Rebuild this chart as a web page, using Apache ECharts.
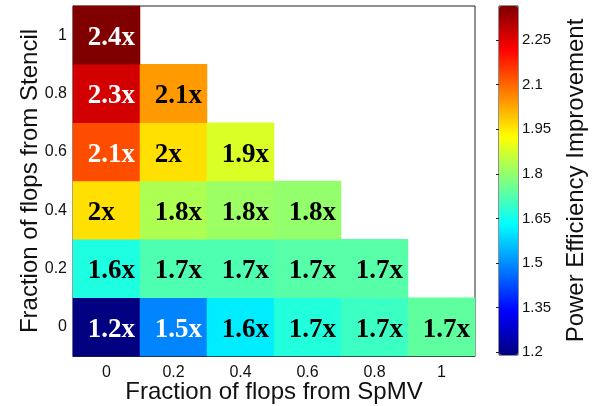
<!DOCTYPE html>
<html>
<head>
<meta charset="utf-8">
<script src="https://cdn.jsdelivr.net/npm/echarts@6/dist/echarts.min.js"></script>
<style>
  html, body { margin: 0; padding: 0; background: #fff; }
  #chart { width: 598px; height: 406px; }
</style>
</head>
<body>
<div id="chart"></div>
<script>
// fraction of flops from SpMV (x) and Stencil (y)
var spmvFrac = ['0', '0.2', '0.4', '0.6', '0.8', '1'];
var stencilFrac = ['0', '0.2', '0.4', '0.6', '0.8', '1'];

// power efficiency improvement, one row per stencil fraction
var row0 = [1.19, 1.49, 1.61, 1.67, 1.70, 1.74];
var row02 = [1.665, 1.72, 1.72, 1.73, 1.73];
var row04 = [1.96, 1.83, 1.81, 1.80];
var row06 = [2.13, 1.96, 1.88];
var row08 = [2.27, 2.04];
var row1 = [2.365];

// printed labels
var lab0 = ['1.2x', '1.5x', '1.6x', '1.7x', '1.7x', '1.7x'];
var lab02 = ['1.6x', '1.7x', '1.7x', '1.7x', '1.7x'];
var lab04 = ['2x', '1.8x', '1.8x', '1.8x'];
var lab06 = ['2.1x', '2x', '1.9x'];
var lab08 = ['2.3x', '2.1x'];
var lab1 = ['2.4x'];

var cbMin = 1.19, cbMax = 2.365;
var cbTicks = [1.2, 1.35, 1.5, 1.65, 1.8, 1.95, 2.1, 2.25];
var jet = ['#000080', '#0000ff', '#0080ff', '#00ffff', '#80ff80', '#ffff00', '#ff8000', '#ff0000', '#800000'];

var rows = [row0, row02, row04, row06, row08, row1];
var labs = [lab0, lab02, lab04, lab06, lab08, lab1];
var cells = [];
for (var j = 0; j < rows.length; j++) {
    for (var i = 0; i < rows[j].length; i++) {
        var v = rows[j][i];
        var dark = v > 2.1 || v < 1.55;
        cells.push({
            value: [i, j, v],
            name: labs[j][i],
            label: { color: dark ? '#fff' : '#000' }
        });
    }
}

var chart = echarts.init(document.getElementById('chart'));
var sansFont = 'Liberation Sans';
var option = {
    animation: false,
    grid: [
        { left: 73, top: 6, width: 402, height: 350, outerBoundsMode: 'none', show: true, borderColor: '#222', borderWidth: 1, backgroundColor: 'transparent' },
        { left: 499, top: 6, width: 19, height: 349, outerBoundsMode: 'none', show: true, borderColor: '#222', borderWidth: 1, backgroundColor: 'transparent' }
    ],
    xAxis: [
        {
            type: 'category', gridIndex: 0, data: spmvFrac,
            name: 'Fraction of flops from SpMV', nameLocation: 'middle', nameGap: 24, nameMoveOverlap: false,
            nameTextStyle: { fontFamily: sansFont, fontSize: 24, color: '#111' },
            axisLine: { lineStyle: { color: '#222' } },
            axisTick: { show: false },
            axisLabel: { fontFamily: sansFont, fontSize: 16, color: '#111', margin: 9 },
            splitLine: { show: false }
        },
        { type: 'value', gridIndex: 1, show: false, min: 0, max: 1 }
    ],
    yAxis: [
        {
            type: 'category', gridIndex: 0, data: stencilFrac,
            name: 'Fraction of flops from Stencil', nameLocation: 'middle', nameGap: 31, nameMoveOverlap: false,
            nameTextStyle: { fontFamily: sansFont, fontSize: 24, color: '#111' },
            axisLine: { lineStyle: { color: '#222' } },
            axisTick: { show: false },
            axisLabel: { fontFamily: sansFont, fontSize: 16, color: '#111', margin: 6 },
            splitLine: { show: false }
        },
        {
            type: 'value', gridIndex: 1, position: 'right', min: cbMin, max: cbMax,
            name: 'Power Efficiency Improvement', nameLocation: 'middle', nameGap: 46, nameRotate: 90,
            nameTextStyle: { fontFamily: sansFont, fontSize: 24, color: '#111' },
            axisLine: { show: false },
            axisTick: { show: true, inside: true, length: 3, lineStyle: { color: '#222' }, customValues: cbTicks },
            axisLabel: { fontFamily: sansFont, fontSize: 15, color: '#111', margin: 4, customValues: cbTicks },
            splitLine: { show: false }
        }
    ],
    visualMap: {
        type: 'continuous', seriesIndex: 0, min: cbMin, max: cbMax,
        left: 499, top: 6, itemWidth: 19, itemHeight: 349, padding: 0,
        calculable: false, hoverLink: false, text: null, showLabel: false,
        inRange: { color: jet }
    },
    series: [{
        type: 'heatmap', xAxisIndex: 0, yAxisIndex: 0,
        data: cells,
        label: {
            show: true, position: 'insideLeft', distance: 15, offset: [0, 3],
            fontFamily: 'Liberation Serif', fontWeight: 'bold', fontSize: 27,
            formatter: function (p) { return p.name; }
        },
        emphasis: { disabled: true }
    }]
};
chart.setOption(option);
</script>
</body>
</html>
